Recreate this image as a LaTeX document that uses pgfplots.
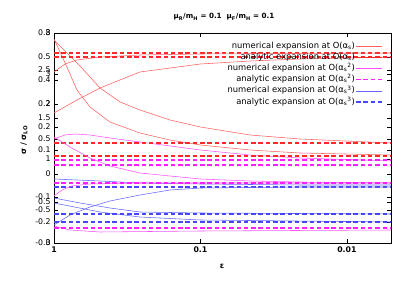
\documentclass[border=0pt]{standalone}
\usepackage{pgfplots}
\pgfplotsset{compat=1.18}
\usepackage{fontspec}
\setmainfont{DejaVu Sans}
\definecolor{redsolid}{RGB}{255,95,95}
\definecolor{reddash}{RGB}{255,40,40}
\definecolor{magsolid}{RGB}{255,80,255}
\definecolor{magdash}{RGB}{255,30,255}
\definecolor{bluesolid}{RGB}{100,100,255}
\definecolor{bluedash}{RGB}{70,70,255}
\pgfplotsset{
  rsl/.style={color=redsolid, line width=0.55bp},
  rdl/.style={color=reddash, line width=1.3bp, dash pattern=on 4.5bp off 2.8bp},
  msl/.style={color=magsolid, line width=0.55bp},
  mdl/.style={color=magdash, line width=1.3bp, dash pattern=on 4.5bp off 2.8bp},
  bsl/.style={color=bluesolid, line width=0.55bp},
  bdl/.style={color=bluedash, line width=1.3bp, dash pattern=on 4.5bp off 2.8bp},
}
\begin{document}
\begin{tikzpicture}
\useasboundingbox (0,0) rectangle (411bp,281bp);
\begin{axis}[
  at={(54bp,38bp)}, anchor=south west, scale only axis,
  width=337bp, height=210bp,
  xmode=log, x dir=reverse, xmin=0.005, xmax=1, ymin=0, ymax=210,
  xtick={1,0.1,0.01}, xticklabels={\textbf{1},\textbf{0.1},\textbf{0.01}},
  ytick={210,186,173,163,139,125,116,104,93,84,69,46,41,33,21,0},
  yticklabels={0.8,0.5,2.5,0.4,0.2,1.5,0.2,0.5,0.1,1,0,-0.1,0.5,-0.5,-0.2,-0.3},
  extra y ticks={210,169,139,0},
  extra y tick labels={3,3,2,0},
  tick label style={font=\fontsize{7.8}{9}\selectfont},
  /pgf/number format/assume math mode=true,
  axis line style={line width=0.8bp},
  tick style={black, line width=0.6bp},
  major tick length=4bp, minor tick length=2bp,
  legend style={at={(0.985,0.975)}, anchor=north east, draw=none, fill=none,
    font=\fontsize{8.4}{9}\selectfont, row sep=0pt,
    nodes={inner sep=0.5bp, text height=7.2bp, text depth=3bp}},
  legend cell align=right, legend plot pos=right,
  legend image code/.code={\draw[#1] (2bp,0bp) -- (28bp,0bp);},
]
% legend-leading plots
\addplot[rsl] coordinates {(1,204)(0.828,178)(0.697,153)(0.568,136)(0.415,121)(0.259,110)(0.1615,103)(0.1,98)(0.0459,93)(0.0209,90)(0.005,88)};
\addlegendentry{numerical expansion at O(α\textsubscript{s})}
\addplot[rdl] coordinates {(1,190)(0.005,190)};
\addlegendentry{analytic expansion at O(α\textsubscript{s})}
\addplot[msl] coordinates {(1,104)(0.841,108)(0.719,109)(0.568,108)(0.415,105)(0.259,101)(0.1,93)(0.0459,88)(0.0209,85)(0.005,82)};
\addlegendentry{numerical expansion at O(α\textsubscript{s}\textsuperscript{2})}
\addplot[mdl] coordinates {(1,83)(0.005,83)};
\addlegendentry{analytic expansion at O(α\textsubscript{s}\textsuperscript{2})}
\addplot[bsl] coordinates {(1,64)(0.485,62)(0.259,60)(0.1,59)(0.0209,58)(0.005,58)};
\addlegendentry{numerical expansion at O(α\textsubscript{s}\textsuperscript{3})}
\addplot[bdl] coordinates {(1,56)(0.005,56)};
\addlegendentry{analytic expansion at O(α\textsubscript{s}\textsuperscript{3})}
% remaining red
\addplot[rsl, forget plot] coordinates {(1,203)(0.665,177)(0.485,155)(0.354,141)(0.259,133)(0.1615,123)(0.1,116)(0.0459,108)(0.0209,104)(0.005,100)};
\addplot[rsl, forget plot] coordinates {(1,171)(0.841,179)(0.697,183)(0.485,186)(0.259,188)(0.1,189)(0.005,190)};
\addplot[rsl, forget plot] coordinates {(1,130)(0.697,143)(0.485,155)(0.259,171)(0.1,179)(0.0459,182)(0.0209,184)(0.005,186)};
\addplot[rdl, forget plot] coordinates {(1,186)(0.005,186)};
\addplot[rdl, forget plot] coordinates {(1,100)(0.005,100)};
\addplot[rdl, forget plot] coordinates {(1,87)(0.005,87)};
% remaining magenta
\addplot[msl, forget plot] coordinates {(1,106)(0.778,96)(0.568,85)(0.415,77)(0.259,70)(0.1,64)(0.0459,62)(0.0209,61)(0.005,60)};
\addplot[msl, forget plot] coordinates {(1,47)(0.882,53)(0.754,57)(0.568,59)(0.259,60)(0.005,60)};
\addplot[msl, forget plot] coordinates {(1,17)(0.778,13)(0.485,11)(0.1,12)(0.005,13)};
\addplot[mdl, forget plot] coordinates {(1,78)(0.005,78)};
\addplot[mdl, forget plot] coordinates {(1,60)(0.005,60)};
\addplot[mdl, forget plot] coordinates {(1,15)(0.005,15)};
% remaining blue
\addplot[bsl, forget plot] coordinates {(1,45)(0.665,40)(0.415,35)(0.259,31)(0.1,30)(0.005,29)};
\addplot[bsl, forget plot] coordinates {(1,18)(0.778,28)(0.568,36)(0.415,42)(0.259,48)(0.1615,53)(0.1,55)(0.0209,56)(0.005,56)};
\addplot[bsl, forget plot] coordinates {(1,40)(0.485,31)(0.259,26)(0.1,23)(0.005,21)};
\addplot[bdl, forget plot] coordinates {(1,29)(0.005,29)};
\addplot[bdl, forget plot] coordinates {(1,21)(0.005,21)};
\end{axis}
\node[font=\fontsize{7.2}{8}\selectfont\bfseries] at (224bp,264bp) {μ\textsubscript{R}/m\textsubscript{H} = 0.1\ \ μ\textsubscript{F}/m\textsubscript{H} = 0.1};
\node[font=\fontsize{7.8}{9}\selectfont\bfseries] at (222bp,15bp) {ε};
\node[font=\fontsize{7.8}{9}\selectfont\bfseries, rotate=90] at (24bp,141bp) {σ / σ\textsubscript{LO}};
\end{tikzpicture}
\end{document}
